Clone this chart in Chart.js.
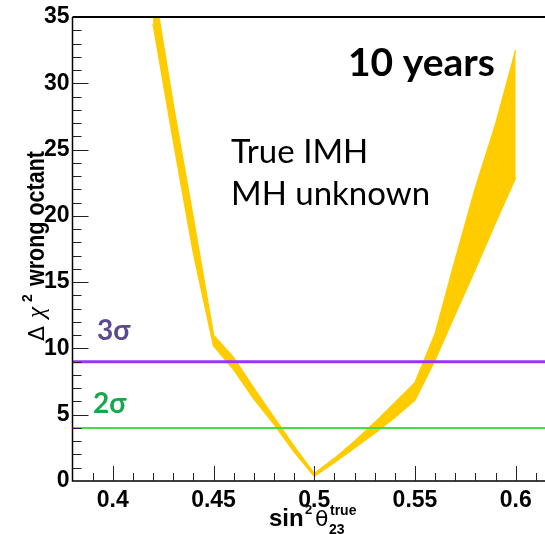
<!DOCTYPE html>
<html>
<head>
<meta charset="utf-8">
<script src="https://cdn.jsdelivr.net/npm/chart.js@4.4.0/dist/chart.umd.min.js"></script>
<style>
  html, body { margin: 0; padding: 0; overflow: hidden; background: #fff; }
  canvas { display: block; }
</style>
</head>
<body>
<canvas id="chart" width="570" height="534"></canvas>
<script>
// sin^2 theta23 (true) and the two edges of the yellow band
const xValues     = [0.42, 0.43, 0.44, 0.45, 0.46, 0.47, 0.48, 0.49, 0.50, 0.51, 0.52, 0.53, 0.54, 0.55, 0.56, 0.57, 0.58, 0.59, 0.60];
const upperValues = [37.7, 28.4, 19.8, 11.0, 9.3, 7.0, 4.8, 2.6, 0.55, 1.7, 3.0, 4.4, 5.9, 7.4, 11.1, 16.7, 22.1, 26.9, 32.5];
const lowerValues = [34.5, 25.7, 17.2, 10.2, 8.4, 6.2, 4.3, 2.2, 0.35, 1.4, 2.5, 3.6, 4.8, 6.1, 9.15, 12.6, 16.0, 19.5, 22.9];

const xRange = [0.38, 0.62];
const yRange = [0, 35];
const xTicks = [0.4, 0.45, 0.5, 0.55, 0.6];
const xTickLabels = ['0.4', '0.45', '0.5', '0.55', '0.6'];
const yTicks = [0, 5, 10, 15, 20, 25, 30, 35];
const yTickLabels = ['0', '5', '10', '15', '20', '25', '30', '35'];

const sigmaLevels = [9, 4];
const sigmaLabels = ['3σ', '2σ'];

const BAND = '#ffcc00';
const PURPLE = '#9933ff';
const GREEN = '#44dd44';

const tickFont = { family: '"Liberation Sans", Arial, sans-serif', size: 23, weight: 'bold' };

function pts(ys) {
    return xValues.map((x, i) => ({ x: x, y: ys[i] }));
}

const frame = {
    id: 'frame',
    afterDraw(chart) {
        const ctx = chart.ctx;
        const a = chart.chartArea;
        const x = chart.scales.x;
        const y = chart.scales.y;
        ctx.save();

        // axes
        ctx.strokeStyle = '#000';
        ctx.lineWidth = 1.5;
        ctx.beginPath();
        ctx.moveTo(a.left, a.top);
        ctx.lineTo(a.left, a.bottom);
        ctx.lineTo(a.right, a.bottom);
        ctx.stroke();
        ctx.lineWidth = 2;
        ctx.beginPath();
        ctx.moveTo(a.left, a.top);
        ctx.lineTo(a.right, a.top);
        ctx.stroke();

        // inward ticks
        ctx.lineWidth = 1;
        ctx.strokeStyle = '#222';
        for (let v = yRange[0] + 1; v < yRange[1]; v++) {
            const py = Math.round(y.getPixelForValue(v)) + 0.5;
            const len = v % 5 === 0 ? 16 : 9;
            ctx.beginPath();
            ctx.moveTo(a.left, py);
            ctx.lineTo(a.left + len, py);
            ctx.stroke();
        }
        for (let k = 39; k <= 62; k++) {
            const px = Math.round(x.getPixelForValue(k / 100)) + 0.5;
            const len = k % 5 === 0 ? 15 : 8;
            ctx.beginPath();
            ctx.moveTo(px, a.bottom);
            ctx.lineTo(px, a.bottom - len);
            ctx.stroke();
        }

        // y axis title
        ctx.fillStyle = '#000';
        ctx.textBaseline = 'alphabetic';
        ctx.textAlign = 'left';
        ctx.save();
        ctx.translate(44, 341);
        ctx.rotate(-Math.PI / 2);
        ctx.font = '22px "DejaVu Sans", sans-serif';
        ctx.fillText('Δ', 0, 0);
        ctx.font = 'italic 25px "Liberation Serif", serif';
        ctx.fillText('χ', 23, 0);
        ctx.font = 'bold 14px "Liberation Sans", Arial, sans-serif';
        ctx.fillText('2', 39, -12);
        ctx.translate(55, 0);
        ctx.scale(0.86, 1);
        ctx.font = 'bold 25px "Liberation Sans", Arial, sans-serif';
        ctx.fillText('wrong octant', 0, 0);
        ctx.restore();

        // x axis title
        ctx.font = 'bold 24px "Liberation Sans", Arial, sans-serif';
        ctx.fillText('sin', 269, 526);
        ctx.font = 'bold 13px "Liberation Sans", Arial, sans-serif';
        ctx.fillText('2', 305, 514);
        ctx.font = '22px "DejaVu Sans", sans-serif';
        ctx.fillText('θ', 315, 526);
        ctx.font = 'bold 14px "Liberation Sans", Arial, sans-serif';
        ctx.fillText('true', 330, 515);
        ctx.fillText('23', 329, 534);

        // annotations
        ctx.font = 'bold 39px Lato, sans-serif';
        ctx.fillText('10 years', 348, 76);
        ctx.font = '33px Lato, sans-serif';
        ctx.fillText('True IMH', 231, 163);
        ctx.fillText('MH unknown', 231, 205);

        ctx.font = 'bold 28px Lato, "Open Sans", sans-serif';
        ctx.fillStyle = '#5b4a8e';
        ctx.fillText(sigmaLabels[0], 97, 340);
        ctx.fillStyle = '#16a84c';
        ctx.fillText(sigmaLabels[1], 93, 413);

        ctx.restore();
    }
};

new Chart(document.getElementById('chart'), {
    type: 'line',
    data: {
        datasets: [
            {
                data: [{ x: xRange[0], y: sigmaLevels[0] }, { x: xRange[1], y: sigmaLevels[0] }],
                borderColor: PURPLE, borderWidth: 3, pointRadius: 0, fill: false
            },
            {
                data: [{ x: xRange[0], y: sigmaLevels[1] }, { x: xRange[1], y: sigmaLevels[1] }],
                borderColor: GREEN, borderWidth: 2, pointRadius: 0, fill: false
            },
            {
                data: pts(upperValues),
                borderColor: BAND, backgroundColor: BAND, borderWidth: 1.5,
                pointRadius: 0, fill: '+1', tension: 0
            },
            {
                data: pts(lowerValues),
                borderColor: BAND, backgroundColor: BAND, borderWidth: 1.5,
                pointRadius: 0, fill: false, tension: 0
            }
        ]
    },
    options: {
        responsive: false,
        animation: false,
        layout: { padding: { left: 0, right: 14, top: 17, bottom: 0 } },
        plugins: {
            legend: { display: false },
            tooltip: { enabled: false }
        },
        scales: {
            x: {
                type: 'linear',
                min: xRange[0],
                max: xRange[1],
                grid: { display: false, drawTicks: false },
                border: { display: false },
                afterBuildTicks: s => { s.ticks = xTicks.map(v => ({ value: v })); },
                afterFit: s => { s.height = 53; },
                ticks: {
                    autoSkip: false, maxRotation: 0, padding: 6,
                    color: '#000', font: tickFont,
                    callback: (v, i) => xTickLabels[i]
                }
            },
            y: {
                min: yRange[0],
                max: yRange[1],
                grid: { display: false, drawTicks: false },
                border: { display: false },
                afterBuildTicks: s => { s.ticks = yTicks.map(v => ({ value: v })); },
                afterFit: s => { s.width = 72.5; },
                ticks: {
                    autoSkip: false, padding: 3,
                    color: '#000', font: tickFont,
                    callback: (v, i) => yTickLabels[i]
                }
            }
        }
    },
    plugins: [frame]
});
</script>
</body>
</html>
